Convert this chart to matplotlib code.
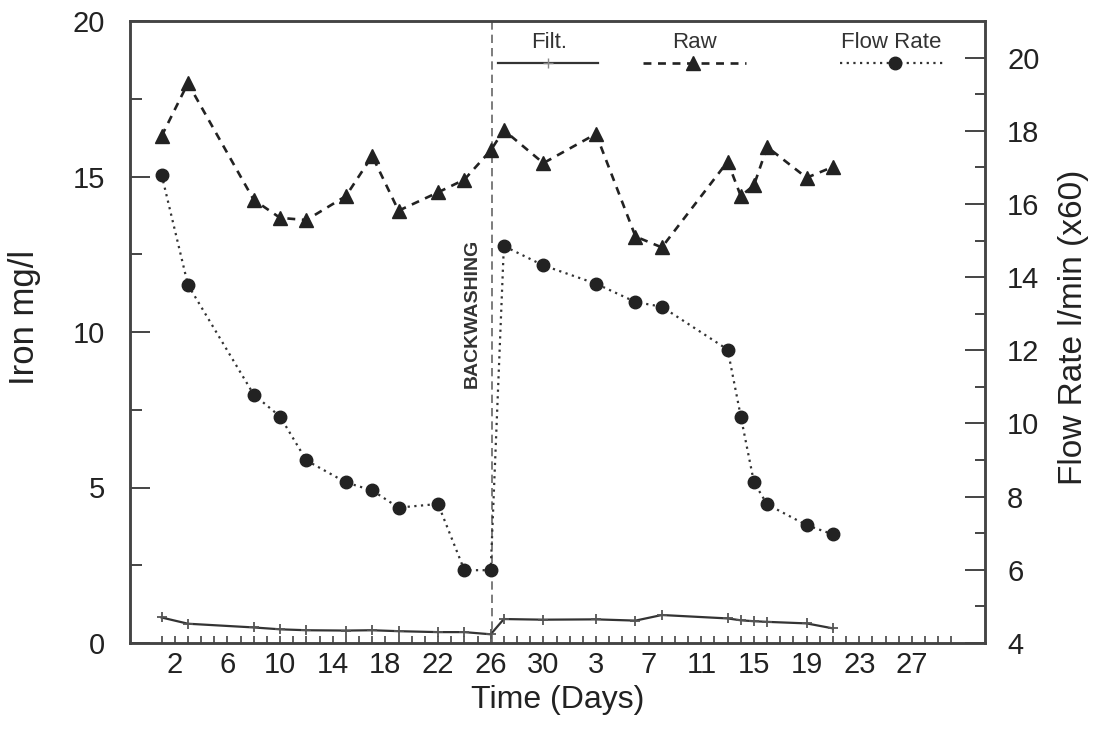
import matplotlib
matplotlib.use("Agg")
import matplotlib.pyplot as plt
from matplotlib.ticker import FixedLocator

plt.rcParams['font.family'] = ['Liberation Sans', 'DejaVu Sans']

# sampling days, counted from the start of the run (1 = first sample)
days = [1, 3, 8, 10, 12, 15, 17, 19, 22, 24, 26, 27, 30, 34, 37, 39, 44, 45, 46, 47, 50, 52]

# iron in mg/l
raw_iron = [16.3, 18.0, 14.25, 13.67, 13.6, 14.37, 15.66, 13.9, 14.49, 14.9, 15.84,
            16.49, 15.43, 16.37, 13.07, 12.72, 15.48, 14.37, 14.72, 15.95, 14.96, 15.31]
filt_iron = [0.82, 0.62, 0.5, 0.44, 0.41, 0.4, 0.41, 0.38, 0.35, 0.35, 0.28,
             0.77, 0.75, 0.76, 0.72, 0.9, 0.79, 0.73, 0.7, 0.68, 0.63, 0.47]

# flow rate l/min (x60)
flow_rate = [16.8, 13.79, 10.79, 10.19, 8.99, 8.39, 8.17, 7.7, 7.8, 5.99, 5.99,
             14.85, 14.32, 13.82, 13.32, 13.19, 12.02, 10.19, 8.39, 7.79, 7.22, 6.97]

backwash_day = 26.1

# day labels wrap into the next month (31 day month)
tick_pos = list(range(2, 59, 4))
tick_labels = ['2', '6', '10', '14', '18', '22', '26', '30',
               '3', '7', '11', '15', '19', '23', '27']
day_ticks = list(range(1, 62))

ink = '#222222'
spine_col = '#444444'

fig = plt.figure(figsize=(11.08, 7.32), dpi=100)
ax = fig.add_axes([130 / 1108, 89 / 732, 855 / 1108, 622 / 732])
ax2 = ax.twinx()

# filtered water
ax.plot(days, filt_iron, color='#333333', lw=1.6, marker='+', ms=7, mew=1.3,
        mec='#555555', zorder=3)
# raw water
ax.plot(days, raw_iron, color=ink, lw=1.9, dashes=(3, 2.5), marker='^', ms=10.5,
        mec=ink, mfc=ink, zorder=4)
# flow rate on right axis
ax2.plot(days, flow_rate, color='#333333', lw=1.6, linestyle=(0, (1, 2)), marker='o',
         ms=9, mec=ink, mfc=ink, zorder=4)

ax.axvline(backwash_day, color='#666666', lw=1.2, dashes=(5, 3), zorder=2)
ax.text(backwash_day - 1.5, 10.6, 'BACKWASHING', rotation=90, ha='center', va='center',
        fontsize=14, fontweight='bold', color='#333333')

# legend drawn across the top, text above each sample line
ax.text(0.49, 0.965, 'Filt.', transform=ax.transAxes, ha='center', va='center',
        fontsize=16, color='#333333')
ax.plot([0.43, 0.547], [0.932, 0.932], transform=ax.transAxes, color='#333333', lw=1.6)
ax.plot([0.489], [0.932], transform=ax.transAxes, marker='+', ms=7, mec='#888888',
        lw=0)
ax.text(0.66, 0.965, 'Raw', transform=ax.transAxes, ha='center', va='center',
        fontsize=16, color='#333333')
ax.plot([0.60, 0.72], [0.932, 0.932], transform=ax.transAxes, color=ink, lw=1.9,
        dashes=(3, 2.5))
ax.plot([0.659], [0.932], transform=ax.transAxes, marker='^', ms=10.5, color=ink, lw=0)
ax.text(0.89, 0.965, 'Flow Rate', transform=ax.transAxes, ha='center', va='center',
        fontsize=16, color='#333333')
ax.plot([0.83, 0.954], [0.932, 0.932], transform=ax.transAxes, color='#333333', lw=1.6,
        linestyle=(0, (1, 2)))
ax.plot([0.895], [0.932], transform=ax.transAxes, marker='o', ms=9, color=ink, lw=0)

ax.set_xlim(-1.4, 63.55)
ax.set_ylim(0, 20)
ax2.set_ylim(4, 21)

ax.xaxis.set_major_locator(FixedLocator(tick_pos))
ax.xaxis.set_minor_locator(FixedLocator(day_ticks))
ax.set_xticklabels(tick_labels)
ax.yaxis.set_major_locator(FixedLocator([0, 5, 10, 15, 20]))
ax.yaxis.set_minor_locator(FixedLocator([2.5, 7.5, 12.5, 17.5]))
ax2.yaxis.set_major_locator(FixedLocator(list(range(4, 21, 2))))
ax2.yaxis.set_minor_locator(FixedLocator(list(range(5, 21, 2))))

ax.tick_params(axis='x', which='both', direction='in', length=5, width=1.2,
               color=spine_col, top=False, pad=6, labelsize=21, labelcolor=ink)
ax.tick_params(axis='y', which='major', direction='in', length=14.4, width=1.4,
               color=spine_col, right=False, pad=18, labelsize=21, labelcolor=ink)
ax.tick_params(axis='y', which='minor', direction='in', length=8.6, width=1.4,
               color=spine_col, right=False)
ax2.tick_params(axis='y', which='major', direction='in', length=14.4, width=1.4,
                color=spine_col, left=False, pad=16, labelsize=21, labelcolor=ink)
ax2.tick_params(axis='y', which='minor', direction='in', length=7, width=1.4,
                color=spine_col, left=False)

for a in (ax, ax2):
    for s in a.spines.values():
        s.set_color(spine_col)
        s.set_linewidth(1.8)

ax.set_xlabel('Time (Days)', fontsize=23, color=ink)
ax.set_ylabel('Iron mg/l', fontsize=25, color=ink)
ax2.set_ylabel('Flow Rate l/min (x60)', fontsize=24, color=ink)
ax.xaxis.set_label_coords(0.5, -0.068)
ax.yaxis.set_label_coords(-0.104, 0.524)
ax2.yaxis.set_label_coords(1.085, 0.507)

fig.savefig('out.png', dpi=100, facecolor='white')
